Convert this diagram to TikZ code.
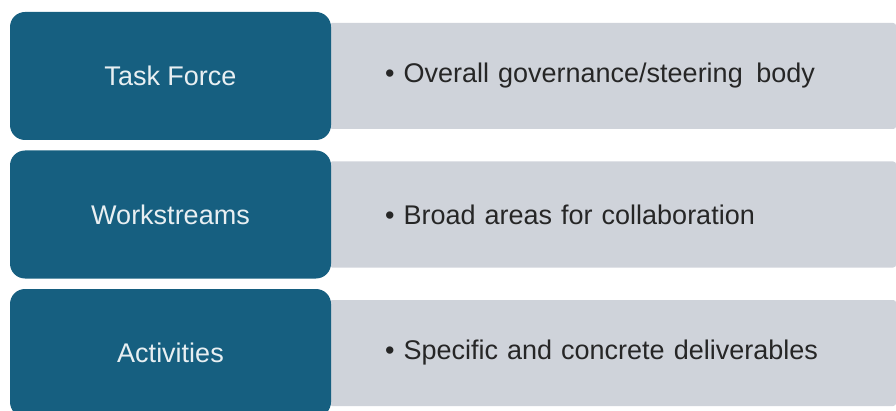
\documentclass[tikz,border=0pt]{standalone}
\usepackage{xcolor}
\usepackage{fontspec}
\setmainfont{Liberation Sans}
\usepackage{tikz}
\usetikzlibrary{positioning,calc}
\definecolor{levelblue}{HTML}{165F80}
\definecolor{descgray}{HTML}{CFD3DA}
\tikzset{
    level color/.style={fill=levelblue,text=white!90!levelblue},
    level box/.style={level color,rectangle,rounded corners=15pt,minimum width=321pt,minimum height=128pt,inner sep=0pt},
    desc box/.style={fill=descgray,text=black!85,rectangle,rounded corners=3pt,minimum height=106pt,text width=455pt,inner xsep=56pt,inner ysep=0pt,align=left},
}
\tikzstyle{every node}=[font=\fontsize{27}{31}\selectfont]

\begin{document}
\begin{tikzpicture}[x=1pt,y=1pt]
        \useasboundingbox (0,0) rectangle (896,410);
        \coordinate (R1) at (170.5,334);
        \coordinate (R2) at (170.5,195.5);
        \coordinate (R3) at (170.5,57);

        % gray descriptions first, the blue boxes sit on top
        \node[desc box, anchor=west] (tfdesc) at ($(R1)+(158.5,0)$) {\textbullet\ Overall governance/steering\ \,body};
        \node[desc box, anchor=west] (wsdesc) at ($(R2)+(158.5,0)$) {\textbullet\ Broad areas for collaboration};
        \node[desc box, anchor=west] (actdesc) at ($(R3)+(158.5,0)$) {\textbullet\ Specific and concrete deliverables};

        \node[level box] (tf) at (R1) {Task Force};
        \node[level box] (ws) at (R2) {Workstreams};
        \node[level box] (act) at (R3) {Activities};
    \end{tikzpicture}
\end{document}
